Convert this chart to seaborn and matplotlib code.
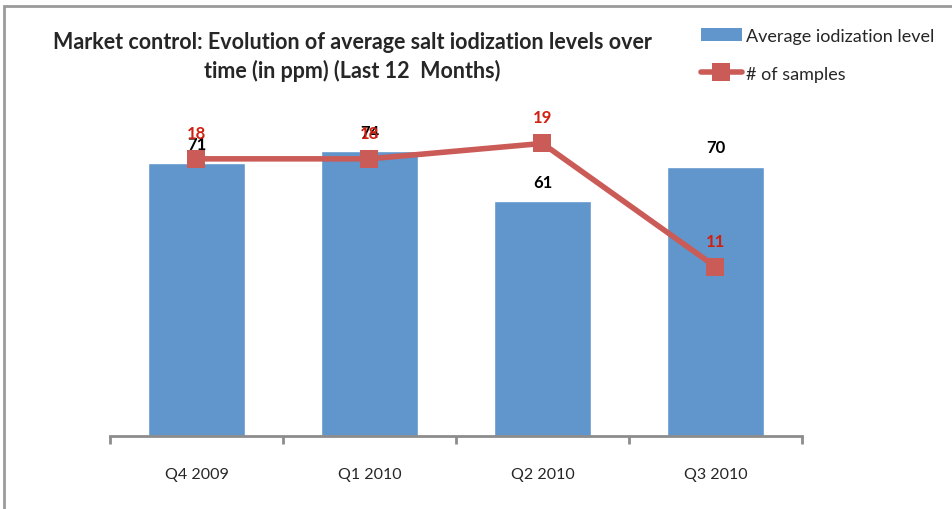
import matplotlib
matplotlib.use("Agg")
import matplotlib.pyplot as plt
import seaborn as sns
import pandas as pd
from matplotlib.patches import Rectangle
from matplotlib.lines import Line2D
from matplotlib.patches import Patch

quarters = ["Q4 2009", "Q1 2010", "Q2 2010", "Q3 2010"]
avg_iodization = [71, 74, 61, 70]
n_samples = [18, 18, 19, 11]

BAR_COLOR = "#6096CB"
LINE_COLOR = "#CB5B57"
LABEL_RED = "#D02010"
FONT = ["Lato", "DejaVu Sans"]

sns.set_style("white")
plt.rcParams["font.family"] = FONT

df = pd.DataFrame({"quarter": quarters, "avg": avg_iodization, "samples": n_samples})

fig = plt.figure(figsize=(9.53, 5.10), dpi=100)
ax = fig.add_axes([0.1154, 0.143, 0.7261, 0.604])

sns.barplot(data=df, x="quarter", y="avg", color=BAR_COLOR, width=0.56,
            saturation=1, ax=ax)
ax.set_ylim(0, 80)
ax.set_xlim(-0.5, 3.5)

ax2 = ax.twinx()
df["pos"] = range(len(quarters))
sns.lineplot(data=df, x="pos", y="samples", ax=ax2, color=LINE_COLOR, lw=4,
             marker="s", markersize=13, markeredgewidth=0)
ax2.set_ylim(0, 20)
ax2.set_xlim(-0.5, 3.5)

# data labels
for i, v in enumerate(avg_iodization):
    ax.annotate(str(v), (i, v), xytext=(0, 8), textcoords="offset points",
                ha="center", va="bottom", fontsize=12, fontweight="bold", color="black")
for i, v in enumerate(n_samples):
    ax2.annotate(str(v), (i, v), xytext=(0, 13), textcoords="offset points",
                 ha="center", va="bottom", fontsize=12, fontweight="bold", color=LABEL_RED)

for a in (ax, ax2):
    for s in ("top", "right", "left"):
        a.spines[s].set_visible(False)
    a.set_ylabel("")
    a.set_xlabel("")
    a.set_yticks([])
ax2.spines["bottom"].set_visible(False)
ax2.set_xticks([])

ax.spines["bottom"].set_color("#8C8C8C")
ax.spines["bottom"].set_linewidth(2)
ax.set_xticks([-0.5, 0.5, 1.5, 2.5, 3.5])
ax.set_xticklabels([])
ax.tick_params(axis="x", which="major", length=6, width=2, color="#8C8C8C", direction="out", bottom=True)
ax.set_xticks(range(len(quarters)), minor=True)
ax.set_xticklabels(quarters, minor=True, fontsize=11.5)
ax.tick_params(axis="x", which="minor", length=0, pad=22)

fig.text(0.37, 0.937, "Market control: Evolution of average salt iodization levels over\ntime (in ppm) (Last 12  Months)",
         ha="center", va="top", fontsize=15.5, fontweight="bold", linespacing=1.4)

handles = [Patch(facecolor=BAR_COLOR, edgecolor="none"),
           Line2D([0], [0], color=LINE_COLOR, lw=4, marker="s", markersize=13, markeredgewidth=0)]
fig.legend(handles, ["Average iodization level", "# of samples"], loc="upper left",
           bbox_to_anchor=(0.718, 0.975), frameon=False, fontsize=13,
           handlelength=2.3, handletextpad=0.2, labelspacing=1.2)

# outer chart frame
fig.patches.append(Rectangle((4 / 953, -0.1), 1.2, 1 - 7 / 510 + 0.1, transform=fig.transFigure,
                             fill=False, edgecolor="#9A9A9A", lw=2))

fig.savefig("out.png", dpi=100)
